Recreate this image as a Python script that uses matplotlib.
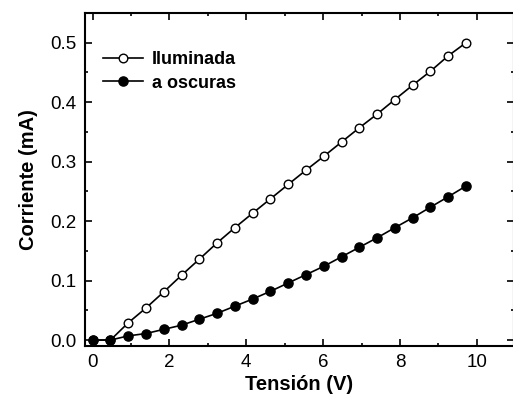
import matplotlib
matplotlib.use("Agg")
import matplotlib.pyplot as plt
from matplotlib.ticker import MultipleLocator

plt.rcParams['font.family'] = ['Liberation Sans', 'DejaVu Sans']

# voltage steps (V)
tension = [0.0, 0.463, 0.926, 1.389, 1.851, 2.314, 2.777, 3.240, 3.703, 4.166, 4.629,
           5.091, 5.554, 6.017, 6.480, 6.943, 7.406, 7.869, 8.331, 8.794, 9.257, 9.72]
# current under illumination (mA)
iluminada = [0.0, 0.0, 0.029, 0.054, 0.081, 0.109, 0.136, 0.1635, 0.189, 0.2134, 0.2375,
             0.2617, 0.2857, 0.309, 0.333, 0.357, 0.380, 0.4045, 0.4286, 0.452, 0.478, 0.500]
# current in the dark (mA)
oscuras = [0.0, 0.0, 0.007, 0.011, 0.018, 0.025, 0.035, 0.045, 0.057, 0.069, 0.082,
           0.096, 0.110, 0.124, 0.140, 0.156, 0.172, 0.189, 0.2056, 0.2235, 0.241, 0.259]

fig = plt.figure(figsize=(5.13, 3.98), dpi=100)
W, H = 513.0, 398.0
ax = fig.add_axes([85 / W, 1 - 346 / H, (514 - 85) / W, (346 - 13) / H])

ax.plot(tension, iluminada, '-o', color='black', lw=1.2, ms=6.2,
        mfc='white', mec='black', mew=1.0, label='Iluminada')
ax.plot(tension, oscuras, '-o', color='black', lw=1.2, ms=6.6,
        mfc='black', mec='black', label='a oscuras')

ax.set_xlim(-0.2, 10.97)
ax.set_ylim(-0.01, 0.55)
ax.xaxis.set_major_locator(MultipleLocator(2))
ax.xaxis.set_minor_locator(MultipleLocator(1))
ax.yaxis.set_major_locator(MultipleLocator(0.1))
ax.yaxis.set_minor_locator(MultipleLocator(0.05))
ax.yaxis.set_major_formatter(plt.FormatStrFormatter('%.1f'))
ax.tick_params(which='both', direction='in', top=True, right=True, width=1.2)
ax.tick_params(which='major', length=5, labelsize=13.5, pad=6)
ax.tick_params(which='minor', length=2.5)
for s in ax.spines.values():
    s.set_linewidth(1.5)

ax.set_xlabel('Tensión (V)', fontsize=14.5, fontweight='bold', labelpad=3)
ax.set_ylabel('Corriente (mA)', fontsize=14.5, fontweight='bold', labelpad=9)

leg = ax.legend(loc='upper left', bbox_to_anchor=(0.026, 0.907), frameon=False,
                handlelength=2.2, handletextpad=0.5, labelspacing=0.35,
                borderaxespad=0, borderpad=0.4,
                prop={'weight': 'bold', 'size': 13})

fig.savefig('out.png', dpi=100)
